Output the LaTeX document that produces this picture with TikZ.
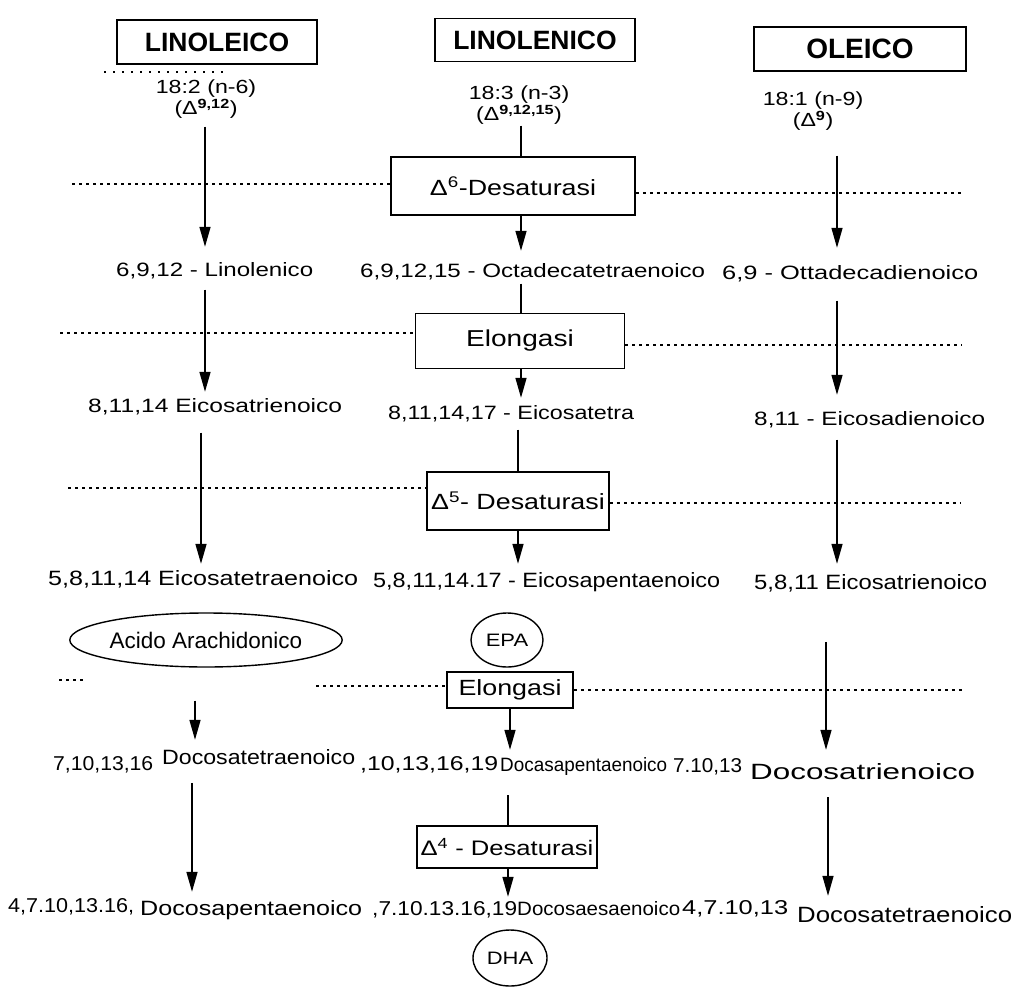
\documentclass[tikz,border=0pt]{standalone}
\usepackage{fontspec}
\setmainfont{Liberation Sans}
\newfontfamily\bodyf{Liberation Sans}[FakeStretch=1.22]
\usetikzlibrary{arrows.meta,shapes.geometric}
\newcommand\sps[1]{\textsuperscript{#1}}
\newcommand\tw[3]{\resizebox{#1pt}{#2pt}{\bodyf\fontsize{20}{24}\selectfont #3}}
\begin{document}
\begin{tikzpicture}[x=1pt,y=-1pt,
  hdr/.style={draw,line width=1.5pt,inner sep=0pt,font=\bfseries\fontsize{26.5}{30}\selectfont},
  lbl/.style={inner sep=0pt,align=center,font=\bodyf\fontsize{19}{21}\selectfont},
  txt/.style={inner sep=0pt,anchor=base west},
  enz/.style={draw,line width=1.5pt,inner sep=0pt,font=\bodyf\fontsize{22}{26}\selectfont},
  arr/.style={-{Triangle[length=20pt,width=11pt]},line width=1.5pt,shorten <=#1},
  arr/.default=10pt,
  ln/.style={line width=1.5pt},
  dotl/.style={line width=1.5pt,dash pattern=on 3pt off 4pt},
  oval/.style={draw,line width=1.4pt,ellipse,inner sep=0pt},
  circ/.style={draw,line width=1.4pt,ellipse,inner sep=0pt,font=\bodyf\fontsize{18}{22}\selectfont}]
\useasboundingbox (0,0) rectangle (1016,992);
\fill[white] (0,0) rectangle (1016,992);

% headers
\node[hdr,minimum width=200pt,minimum height=44pt] (hL) at (217,42) {LINOLEICO};
\node[hdr,minimum width=200pt,minimum height=43pt] (hM) at (535,40) {LINOLENICO};
\node[hdr,minimum width=212pt,minimum height=44pt,font=\bfseries\fontsize{28}{30}\selectfont] (hR) at (860,49) {OLEICO};

% formula labels
\node[lbl] (dL) at (206,99) {18:2 (n-6)\\(Δ\sps{\bfseries 9,12})};
\node[lbl] (dM) at (519,105) {18:3 (n-3)\\(Δ\sps{\bfseries 9,12,15})};
\node[lbl] (dR) at (813,111) {18:1 (n-9)\\(Δ\sps{\bfseries 9})};

% enzyme boxes
\node[enz,minimum width=244pt,minimum height=58pt] (e1) at (513,186) {Δ\sps{6}-Desaturasi};
\node[enz,minimum width=209pt,minimum height=55pt,font=\bodyf\fontsize{23}{26}\selectfont] (e2) at (520,341) {Elongasi};
\node[enz,minimum width=182pt,minimum height=58pt] (e3) at (518,501) {Δ\sps{5}- Desaturasi};
\node[enz,minimum width=126pt,minimum height=36pt] (e4) at (510,690) {Elongasi};
\node[enz,minimum width=180pt,minimum height=42pt,font=\bodyf\fontsize{21}{26}\selectfont] (e5) at (507,847) {Δ\sps{4} - Desaturasi};

% row texts
\node[txt] (r1L) at (116,276) {\tw{197}{14}{6,9,12 - Linolenico}};
\node[txt] (r1M) at (360,277) {\tw{345}{14}{6,9,12,15 - Octadecatetraenoico}};
\node[txt] (r1R) at (722,279) {\tw{256}{14}{6,9 - Ottadecadienoico}};
\node[txt] (r2L) at (88,412) {\tw{254}{14}{8,11,14 Eicosatrienoico}};
\node[txt] (r2M) at (388,419) {\tw{246}{14}{8,11,14,17 - Eicosatetra}};
\node[txt] (r2R) at (754,425) {\tw{231}{14}{8,11 - Eicosadienoico}};
\node[txt] (r3L) at (48,585) {\tw{310}{15}{5,8,11,14 Eicosatetraenoico}};
\node[txt] (r3M) at (373,587) {\tw{347}{15}{5,8,11,14.17 - Eicosapentaenoico}};
\node[txt] (r3R) at (754,589) {\tw{233}{15}{5,8,11 Eicosatrienoico}};
\node[txt] (r4L) at (53,770) {\tw{100}{14}{7,10,13,16}\hspace{9pt}\raisebox{6pt}{\tw{193}{15}{Docosatetraenoico}}};
\node[txt] (r4M) at (360,770) {\tw{138}{14}{,10,13,16,19}\hspace{2pt}\raisebox{-1pt}{\tw{167}{14}{Docasapentaenoico}}};
\node[txt] (r4R) at (673,772) {\tw{69}{14}{7.10,13}\hspace{8pt}\raisebox{-7pt}{\tw{225}{16}{Docosatrienoico}}};
\node[txt] (r5L) at (8,912) {\tw{126}{14}{4,7.10,13.16,}\hspace{6pt}\raisebox{-3pt}{\tw{222}{15}{Docosapentaenoico}}};
\node[txt] (r5M) at (372,915) {\tw{145}{14}{,7.10.13.16,19}\tw{163}{14}{Docosaesaenoico}};
\node[txt] (r5R) at (682,914) {\tw{106}{14}{4,7.10,13}\hspace{9pt}\raisebox{-8pt}{\tw{215}{16}{Docosatetraenoico}}};

% ovals
\node[oval,minimum width=232pt,minimum height=54pt,font=\fontsize{22.5}{25}\selectfont] (aa) at (206,640) {Acido Arachidonico};
\node[circ,minimum width=72pt,minimum height=54pt] (epa) at (507,640) {EPA};
\node[circ,minimum width=74pt,minimum height=56pt] (dha) at (510,958) {DHA};

% column coordinates
\coordinate (cL1) at (205,0);
\coordinate (cL3) at (201,0);
\coordinate (cL4) at (195,0);
\coordinate (cL5) at (192,0);
\coordinate (cR1) at (837,0);
\coordinate (cR4) at (826,0);
\coordinate (cR5) at (828,0);
\coordinate (cM1) at (521,0);
\coordinate (cM3) at (518,0);
\coordinate (cM5) at (508,0);

% dotted separators
\draw[dotl,dash pattern=on 2pt off 7pt] (104,72) -- (228,72);
\draw[dotl] (72,184) -- (e1.west |- 0,184);
\draw[dotl] (e1.east |- 0,193) -- (964,193);
\draw[dotl] (60,333) -- (e2.west |- 0,333);
\draw[dotl] (e2.east |- 0,345) -- (962,345);
\draw[dotl] (68,488) -- (e3.west |- 0,488);
\draw[dotl] (e3.east |- 0,503) -- (961,503);
\draw[dotl] (59,680) -- (85,680);
\draw[dotl] (316,686) -- (e4.west |- 0,686);
\draw[dotl] (e4.east |- 0,690) -- (964,690);

% left column
\draw[arr=8pt,shorten >=15pt] (dL.south -| cL1) -- (r1L.north -| cL1);
\draw[arr=11pt,shorten >=6pt] (r1L.south -| cL1) -- (r2L.north -| cL1);
\draw[arr=18pt,shorten >=6pt] (r2L.south -| cL3) -- (r3L.north -| cL3);
\draw[arr=33pt,shorten >=9pt] (aa.south -| cL4) -- (r4L.north -| cL4);
\draw[arr=10pt,shorten >=6pt] (r4L.south -| cL5) -- (r5L.north -| cL5);

% middle column
\draw[ln,shorten <=1pt] (dM.south -| cM1) -- (e1.north -| cM1);
\draw[arr=0pt,shorten >=12pt] (e1.south -| cM1) -- (r1M.north -| cM1);
\draw[ln,shorten <=4pt] (r1M.south -| cM1) -- (e2.north -| cM1);
\draw[arr=0pt,shorten >=7pt] (e2.south -| cM1) -- (r2M.north -| cM1);
\draw[ln,shorten <=8pt] (r2M.south -| cM3) -- (e3.north -| cM3);
\draw[arr=0pt,shorten >=8pt] (e3.south -| cM3) -- (r3M.north -| cM3);
\draw[arr=0pt,shorten >=6pt] (e4.south) -- (r4M.north -| e4.south);
\draw[ln,shorten <=20pt] (r4M.south -| cM5) -- (e5.north -| cM5);
\draw[arr=0pt,shorten >=4pt] (e5.south -| cM5) -- (r5M.north -| cM5);

% right column
\draw[arr=25pt,shorten >=17pt] (dR.south -| cR1) -- (r1R.north -| cR1);
\draw[arr=19pt,shorten >=16pt] (r1R.south -| cR1) -- (r2R.north -| cR1);
\draw[arr=12pt,shorten >=10pt] (r2R.south -| cR1) -- (r3R.north -| cR1);
\draw[arr=50pt,shorten >=8pt] (r3R.south -| cR4) -- (r4R.north -| cR4);
\draw[arr=18pt,shorten >=4pt] (r4R.south -| cR5) -- (r5R.north -| cR5);
\end{tikzpicture}
\end{document}
